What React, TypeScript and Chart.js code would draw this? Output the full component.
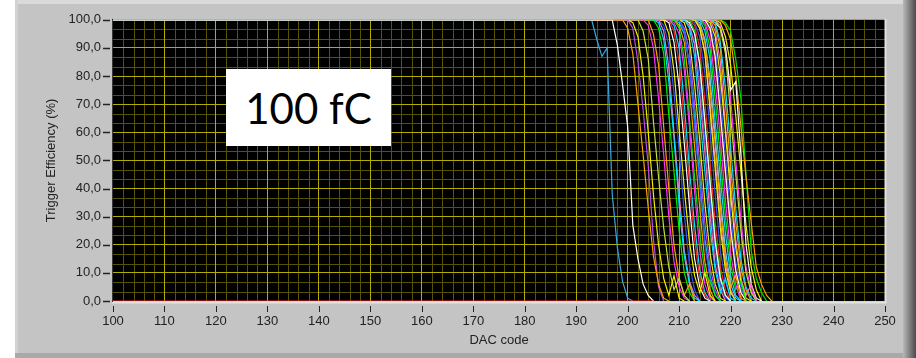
import React, { useEffect, useRef } from 'react';
import { Chart, registerables } from 'chart.js';

Chart.register(...registerables);

// ---- axis ranges and ticks ----
const xRange = [100, 250];
const yRange = [0, 100];
const xTickValues = [100, 110, 120, 130, 140, 150, 160, 170, 180, 190, 200, 210, 220, 230, 240, 250];
const xTickLabels = ['100', '110', '120', '130', '140', '150', '160', '170', '180', '190', '200', '210', '220', '230', '240', '250'];
const yTickValues = [0, 10, 20, 30, 40, 50, 60, 70, 80, 90, 100];
const yTickLabels = ['0,0', '10,0', '20,0', '30,0', '40,0', '50,0', '60,0', '70,0', '80,0', '90,0', '100,0'];
const xMinorStep = 2;
const yMinorStep = 10 / 3;

// ---- data: flat zero trace ----
const zeroTraceDac = [100, 205];
const zeroTraceEff = [0, 0];

// ---- data: S-curves, efficiency (%) per DAC code starting at curveStarts[i] ----
const curveStarts = [
  197, 193, 199, 200, 200, 202, 203, 204, 205, 205,
  206, 206, 207, 207, 208, 208, 208, 209, 209, 210,
  210, 211, 211, 211, 212, 212, 212, 213, 213, 214,
  214, 214, 215, 215, 215, 216, 216, 216, 217, 216,
  217, 218, 218, 209, 213, 210, 214, 217, 211, 213,
];
const curveValues = [
  [100, 91, 77, 62, 27, 15, 6, 2, 0],
  [100, 93, 87, 90, 38, 19, 7, 1, 0],
  [100, 97, 88, 70, 52, 33, 16, 6, 1, 0],
  [100, 97, 85, 68, 48, 22, 5, 0],
  [100, 99, 94, 80, 60, 38, 20, 8, 2, 9, 1, 0],
  [100, 96, 86, 64, 44, 26, 12, 4, 8, 2, 0],
  [100, 98, 90, 72, 52, 30, 14, 5, 1, 0],
  [100, 95, 84, 62, 40, 20, 8, 2, 6, 0],
  [100, 97, 88, 66, 46, 25, 10, 3, 0],
  [100, 99, 93, 78, 58, 34, 16, 6, 1, 0],
  [100, 96, 83, 60, 38, 18, 7, 2, 0],
  [100, 98, 91, 74, 54, 31, 13, 4, 0],
  [100, 95, 82, 61, 40, 21, 9, 3, 10, 2, 0],
  [100, 99, 92, 76, 56, 34, 15, 5, 1, 0],
  [100, 96, 85, 63, 42, 22, 8, 2, 0],
  [100, 98, 90, 70, 47, 27, 11, 3, 0],
  [100, 99, 95, 82, 62, 39, 18, 6, 1, 0],
  [100, 97, 86, 65, 44, 24, 10, 7, 2, 0],
  [100, 98, 92, 75, 55, 33, 14, 4, 0],
  [100, 96, 84, 62, 41, 20, 8, 2, 0],
  [100, 99, 93, 77, 57, 35, 17, 6, 1, 0],
  [100, 97, 87, 66, 46, 26, 11, 3, 8, 1, 0],
  [100, 98, 91, 73, 53, 31, 13, 4, 0],
  [100, 99, 95, 84, 64, 42, 21, 8, 2, 0],
  [100, 96, 85, 63, 43, 23, 9, 2, 0],
  [100, 98, 90, 71, 49, 28, 12, 4, 0],
  [100, 99, 94, 81, 61, 38, 18, 7, 1, 0],
  [100, 97, 88, 68, 47, 26, 11, 3, 0],
  [100, 98, 92, 76, 56, 34, 15, 5, 9, 1, 0],
  [100, 96, 86, 64, 44, 24, 9, 2, 0],
  [100, 99, 93, 78, 58, 36, 17, 6, 0],
  [100, 98, 90, 72, 51, 30, 13, 4, 7, 0],
  [100, 97, 87, 67, 46, 26, 11, 3, 0],
  [100, 99, 94, 80, 60, 38, 19, 7, 1, 0],
  [100, 98, 91, 73, 52, 31, 14, 5, 0],
  [100, 96, 85, 62, 42, 22, 8, 2, 6, 0],
  [100, 99, 92, 76, 55, 33, 15, 5, 1, 0],
  [100, 98, 90, 70, 48, 28, 12, 4, 0],
  [100, 97, 88, 66, 45, 25, 10, 3, 0],
  [100, 99, 97, 90, 75, 78, 52, 20, 6, 1, 0],
  [100, 98, 90, 72, 50, 29, 12, 4, 0],
  [100, 98, 93, 80, 62, 44, 28, 12, 6, 2, 0],
  [100, 99, 96, 86, 72, 45, 18, 8, 3, 0],
  [100, 99, 95, 84, 65, 43, 22, 9, 2, 0],
  [100, 99, 93, 79, 59, 37, 18, 6, 1, 0],
  [100, 97, 89, 70, 49, 28, 12, 4, 0],
  [100, 99, 96, 85, 66, 44, 24, 10, 3, 0],
  [100, 99, 94, 84, 66, 46, 27, 12, 4, 0],
  [100, 98, 92, 78, 57, 36, 17, 6, 1, 0],
  [100, 97, 89, 70, 50, 29, 13, 4, 0],
];

// ---- styles ----
const zeroTraceColor = '#ff2a2a';
const curveColors = [
  '#ffffff', '#3aa6dc', '#ffa000', '#b44ef0', '#f0f000', '#c0e040', '#ff30ff', '#ffa000', '#00f000', '#00e0ff',
  '#ff70c8', '#3355ff', '#f0f000', '#ffffff', '#ff2a2a', '#00e0ff', '#ff30ff', '#00f000', '#ffa000', '#3355ff',
  '#f0f000', '#00e0ff', '#ff70c8', '#ffffff', '#00f000', '#ff2a2a', '#3355ff', '#f0f000', '#ffa000', '#00e0ff',
  '#ff30ff', '#00f000', '#ffffff', '#f0f000', '#3355ff', '#ff70c8', '#00e0ff', '#ffa000', '#c0e040', '#ffffff',
  '#ff30ff', '#ffa000', '#00e000', '#00e0ff', '#66ccff', '#b44ef0', '#ff2a2a', '#f0f000', '#3355ff', '#ff70c8',
];

const FONT = 'Liberation Sans, Arial, sans-serif';

const plotDecor = {
  id: 'plotDecor',
  beforeDraw(chart: any) {
    const { ctx, chartArea: a, scales } = chart;
    const xs = scales.x;
    const ys = scales.y;
    ctx.save();
    ctx.fillStyle = '#000000';
    ctx.fillRect(a.left, a.top, a.right - a.left, a.bottom - a.top);
    ctx.strokeStyle = '#575300';
    ctx.lineWidth = 1;
    ctx.beginPath();
    for (let v = xRange[0] + xMinorStep; v < xRange[1]; v += xMinorStep) {
      if (Math.abs(v % 10) < 1e-6) continue;
      const px = Math.round(xs.getPixelForValue(v)) + 0.5;
      ctx.moveTo(px, a.top);
      ctx.lineTo(px, a.bottom);
    }
    for (let k = 1; k * yMinorStep < yRange[1] - 1e-6; k++) {
      if (k % 3 === 0) continue;
      const py = Math.round(ys.getPixelForValue(k * yMinorStep)) + 0.5;
      ctx.moveTo(a.left, py);
      ctx.lineTo(a.right, py);
    }
    ctx.stroke();
    ctx.restore();
  },
  beforeDatasetsDraw(chart: any) {
    const { ctx, chartArea: a } = chart;
    ctx.save();
    ctx.strokeStyle = '#e2e2e2';
    ctx.lineWidth = 2;
    ctx.beginPath();
    ctx.moveTo(a.right + 0.5, a.top - 1);
    ctx.lineTo(a.right + 0.5, a.bottom + 2.5);
    ctx.moveTo(a.left - 1, a.bottom + 1.5);
    ctx.lineTo(a.right + 1.5, a.bottom + 1.5);
    ctx.stroke();
    ctx.strokeStyle = '#3a3a3a';
    ctx.lineWidth = 1;
    ctx.beginPath();
    ctx.moveTo(a.left - 0.5, a.top - 1);
    ctx.lineTo(a.left - 0.5, a.bottom + 1);
    ctx.stroke();
    ctx.restore();
  },
  afterDraw(chart: any) {
    const { ctx, chartArea: a, scales } = chart;
    ctx.save();
    ctx.strokeStyle = '#222222';
    ctx.lineWidth = 1.5;
    ctx.beginPath();
    yTickValues.forEach((v) => {
      const py = Math.round(scales.y.getPixelForValue(v)) + 0.5;
      ctx.moveTo(a.left - 10, py);
      ctx.lineTo(a.left - 3, py);
    });
    ctx.stroke();
    ctx.lineWidth = 1;
    ctx.beginPath();
    xTickValues.forEach((v) => {
      const px = Math.round(scales.x.getPixelForValue(v)) + 0.5;
      ctx.moveTo(px, a.bottom + 5);
      ctx.lineTo(px, a.bottom + 11);
    });
    ctx.stroke();
    ctx.restore();
  },
};

export default function App() {
  const canvasRef = useRef<HTMLCanvasElement | null>(null);

  useEffect(() => {
    document.body.style.margin = '0';
    document.body.style.background = '#ffffff';
    const canvas = canvasRef.current;
    if (!canvas) return;

    const datasets: any[] = [];
    datasets.push({
      data: zeroTraceDac.map((x, i) => ({ x, y: zeroTraceEff[i] })),
      borderColor: zeroTraceColor,
      borderWidth: 1.2,
      pointRadius: 0,
      showLine: true,
    });
    curveValues.forEach((vals, i) => {
      const pts = [{ x: xRange[0], y: vals[0] }];
      vals.forEach((y, j) => pts.push({ x: curveStarts[i] + j, y }));
      datasets.push({
        data: pts,
        borderColor: curveColors[i % curveColors.length],
        borderWidth: 1.2,
        pointRadius: 0,
        showLine: true,
      });
    });

    const edgeHidden = (min: number, max: number, color: string) => (c: any) =>
      c.tick && (c.tick.value === min || c.tick.value === max) ? 'rgba(0,0,0,0)' : color;

    const chart = new Chart(canvas, {
      type: 'scatter',
      data: { datasets },
      plugins: [plotDecor],
      options: {
        animation: false,
        responsive: false,
        devicePixelRatio: 1,
        layout: { padding: { left: 0, top: 16, right: 31, bottom: 0 } },
        plugins: { legend: { display: false }, tooltip: { enabled: false } },
        elements: { line: { tension: 0 } },
        scales: {
          x: {
            type: 'linear',
            min: xRange[0],
            max: xRange[1],
            afterFit: (s: any) => { s.height = 57; },
            border: { display: false },
            grid: { color: edgeHidden(xRange[0], xRange[1], '#b4ad00'), lineWidth: 1, drawTicks: false },
            ticks: {
              stepSize: 10,
              autoSkip: false,
              maxRotation: 0,
              padding: 13,
              color: '#222222',
              font: { family: FONT, size: 13 },
              callback: (v: any) => xTickLabels[xTickValues.indexOf(Math.round(Number(v)))] ?? '',
            },
            title: {
              display: true,
              text: 'DAC code',
              color: '#222222',
              font: { family: FONT, size: 13 },
              padding: { top: 0, bottom: 10 },
            },
          },
          y: {
            type: 'linear',
            min: yRange[0],
            max: yRange[1],
            afterFit: (s: any) => { s.width = 113; },
            border: { display: false },
            grid: { color: edgeHidden(yRange[0], yRange[1], '#b4ad00'), lineWidth: 1, drawTicks: false },
            ticks: {
              stepSize: 10,
              padding: 12,
              color: '#222222',
              font: { family: FONT, size: 13 },
              callback: (v: any) => yTickLabels[yTickValues.indexOf(Math.round(Number(v)))] ?? '',
            },
            title: {
              display: true,
              text: 'Trigger Efficiency (%)',
              color: '#222222',
              font: { family: FONT, size: 13 },
              padding: { top: 44, bottom: 0 },
            },
          },
        },
      } as any,
    });
    return () => chart.destroy();
  }, []);

  return (
    <div style={{ position: 'relative', width: 916, height: 358, background: '#ffffff', overflow: 'hidden' }}>
      <div style={{ position: 'absolute', left: 15, top: 0, width: 888, height: 358, background: '#c4c4c4' }} />
      <div style={{ position: 'absolute', left: 15, top: 0, width: 901, height: 4, background: '#dadada' }} />
      <div style={{ position: 'absolute', left: 15, top: 0, width: 3, height: 358, background: '#d2d2d2' }} />
      <div style={{ position: 'absolute', left: 15, top: 353, width: 888, height: 5, background: '#a9a9a9' }} />
      <div style={{ position: 'absolute', left: 903, top: 0, width: 13, height: 358, background: 'linear-gradient(to right, #b8b8b8, #4a4a4a)' }} />
      <canvas ref={canvasRef} width={916} height={358} style={{ position: 'absolute', left: 0, top: 0, display: 'block' }} />
      <div
        style={{
          position: 'absolute',
          left: 226,
          top: 69,
          width: 165,
          height: 77,
          background: '#ffffff',
          display: 'flex',
          alignItems: 'center',
          justifyContent: 'center',
          fontFamily: 'Lato, "Open Sans", sans-serif',
          fontSize: 42,
          color: '#000000',
          lineHeight: 1,
        }}
      >
        100 fC
      </div>
    </div>
  );
}
